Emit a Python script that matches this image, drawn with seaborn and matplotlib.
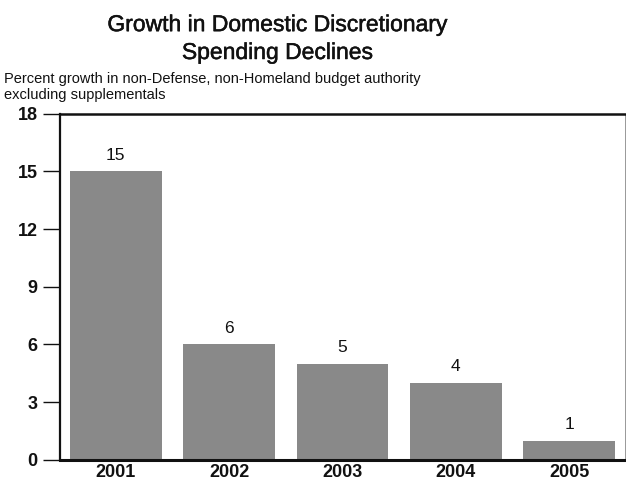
import matplotlib
matplotlib.use("Agg")
import matplotlib.pyplot as plt
import matplotlib.patheffects as pe
import seaborn as sns
import pandas as pd

years = ["2001", "2002", "2003", "2004", "2005"]
growth = [15, 6, 5, 4, 1]
yticks = [0, 3, 6, 9, 12, 15, 18]

sns.set_theme(style="white")
plt.rcParams["font.family"] = ["Liberation Sans", "DejaVu Sans"]

df = pd.DataFrame({"year": years, "growth": growth})

fig = plt.figure(figsize=(6.26, 4.82), dpi=100)
ax = fig.add_axes([0.096, 0.046, 0.902, 0.718])

sns.barplot(data=df, x="year", y="growth", color="#898989", width=0.81,
            saturation=1, ax=ax, edgecolor="none")

for i, v in enumerate(growth):
    ax.text(i, v + 0.45, f"{v}", ha="center", va="bottom", fontsize=12.5,
            color="#111111")

ax.set_xlim(-0.49, 4.49)
ax.set_ylim(0, 18)
ax.set_yticks(yticks)
ax.set_yticklabels([str(t) for t in yticks], fontsize=13, color="#111111",
                   fontweight="bold")
ax.tick_params(axis="y", direction="out", length=12, width=1, color="#111111",
               left=True, pad=4)
ax.tick_params(axis="x", length=0, labelsize=13, labelcolor="#111111", pad=3)
for lbl in ax.get_xticklabels():
    lbl.set_fontweight("bold")
ax.set_xlabel("")
ax.set_ylabel("")

for side in ["left", "bottom", "top"]:
    ax.spines[side].set_visible(True)
    ax.spines[side].set_color("#111111")
ax.spines["left"].set_linewidth(1.6)
ax.spines["bottom"].set_linewidth(2.2)
ax.spines["top"].set_linewidth(1.8)
ax.spines["right"].set_visible(True)
ax.spines["right"].set_color("#888888")
ax.spines["right"].set_linewidth(0.6)

thick = [pe.withStroke(linewidth=0.35, foreground="#111111")]
fig.text(0.443, 1 - 59 / 482, "Growth in Domestic Discretionary\nSpending Declines",
         ha="center", va="baseline", fontsize=16.5, color="#111111",
         linespacing=1.27, path_effects=thick)
fig.text(0.007, 1 - 99 / 482, "Percent growth in non-Defense, non-Homeland budget authority\nexcluding supplementals",
         ha="left", va="baseline", fontsize=10.5, color="#111111", linespacing=1.2)

fig.savefig("out.png", dpi=100)
